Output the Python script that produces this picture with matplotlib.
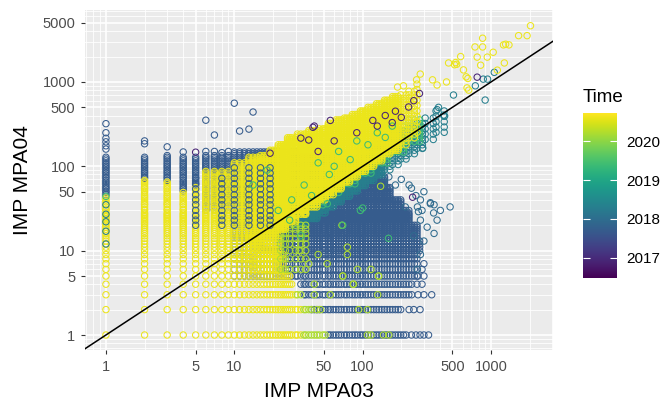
import numpy as np
import matplotlib.pyplot as plt
from matplotlib import ticker

plt.rcParams['font.family'] = ['Liberation Sans', 'DejaVu Sans']

# colour groups, as decimal year on the Time scale
T_BLUE = 2017.7
T_BLUE2 = 2017.95
T_TEAL = 2018.3
T_GREEN = 2019.4
T_YG = 2020.2
T_YELLOW = 2020.6
T_PURPLE = 2016.9
t_min, t_max = 2016.48, 2020.73

# count values the points sit on (integers, coarser once they merge visually)
levels = [1, 2, 3, 4, 5, 6, 7, 8, 9, 10, 11, 12, 13, 14, 15, 16, 17, 18, 19, 20,
          21, 22, 23, 24, 25, 26, 27, 28, 30, 31, 33, 35, 36, 38, 40, 42, 44, 46,
          49, 51, 54, 56, 59, 62, 65, 68, 72, 75, 79, 83, 87, 91, 96, 100, 105,
          110, 116, 122, 128, 134, 141, 148, 155, 163, 171, 180, 189, 198, 208,
          218, 229, 241, 253, 265, 278, 292, 307, 322, 338, 355, 373, 392, 411,
          432, 453, 476, 500, 525, 551, 579, 608, 638, 670, 703, 738, 775, 814,
          855, 898, 943, 990]

# blocks: (x from, x to, y from, y to, every n-th level)
col_blue = [(1, 1, 46, 130, 1), (2, 2, 72, 128, 1), (3, 3, 68, 135, 1),
            (4, 4, 51, 128, 1), (5, 5, 59, 128, 1), (6, 9, 30, 134, 1)]
cloud_blue = [(10, 265, 5, 9, 1), (10, 290, 10, 13, 1), (10, 270, 14, 20, 1),
              (10, 230, 21, 30, 1), (10, 200, 31, 40, 1), (10, 170, 42, 56, 1),
              (10, 150, 59, 75, 1), (10, 130, 79, 100, 1), (10, 60, 105, 128, 1),
              (10, 30, 134, 148, 1)]
rows_blue = [(53, 225, 1, 1, 1), (40, 205, 2, 2, 1), (35, 245, 3, 3, 1),
             (32, 250, 4, 4, 1)]
diag_teal = [(30, 36, 20, 45, 1), (38, 44, 24, 55, 1), (46, 51, 28, 62, 1),
             (54, 59, 33, 72, 1), (62, 68, 38, 82, 1), (72, 79, 44, 95, 1),
             (83, 91, 50, 110, 1), (96, 105, 58, 125, 1), (110, 122, 66, 145, 1),
             (128, 141, 77, 170, 1), (148, 163, 90, 200, 2), (171, 189, 105, 230, 2),
             (198, 218, 120, 270, 2), (229, 253, 140, 300, 2), (265, 292, 160, 340, 2),
             (307, 355, 200, 420, 3), (373, 432, 250, 480, 3)]
diag_green = [(40, 51, 35, 70, 2), (54, 68, 47, 92, 2), (72, 91, 62, 125, 2),
              (96, 122, 82, 165, 2), (128, 163, 110, 220, 2), (171, 218, 145, 300, 2),
              (229, 292, 195, 380, 2)]
col_yellow = [(1, 1, 1, 43, 1), (2, 2, 1, 70, 1), (3, 3, 1, 66, 1),
              (4, 4, 1, 50, 1), (5, 5, 1, 57, 1), (6, 9, 1, 90, 1)]
rows_yellow = [(10, 33, 1, 2, 1), (10, 30, 3, 3, 1), (10, 28, 4, 4, 1),
               (10, 27, 5, 5, 1), (10, 24, 6, 9, 1), (13, 22, 6, 15, 1)]
rows_yg = [(34, 52, 1, 1, 1), (34, 39, 2, 2, 1), (31, 34, 3, 3, 1),
           (23, 36, 6, 20, 2)]
band_yellow = [(10, 12, 8, 115, 1), (13, 15, 10, 130, 1), (16, 18, 13, 140, 1),
               (19, 21, 15, 160, 1), (22, 25, 18, 185, 1), (26, 30, 22, 220, 1),
               (31, 36, 27, 250, 1), (38, 44, 33, 270, 1), (46, 51, 40, 290, 1),
               (54, 59, 46, 330, 1), (62, 68, 54, 360, 1), (72, 79, 63, 390, 1),
               (83, 91, 73, 430, 1), (96, 105, 85, 470, 1), (110, 122, 100, 510, 1),
               (128, 141, 115, 560, 1), (148, 163, 135, 610, 1), (171, 189, 155, 680, 1),
               (198, 218, 180, 750, 2), (229, 253, 210, 850, 2), (265, 292, 250, 1000, 3)]
mix_blue = [(5, 9, 20, 80, 3), (10, 20, 20, 100, 3)]
mix_teal = [(1, 3, 12, 40, 5)]

# single points
top_blue_x = [1, 1, 1, 1, 1, 1, 2, 2, 3, 4, 6, 7, 8, 9, 6, 7, 10, 11, 13, 14]
top_blue_y = [160, 175, 195, 215, 250, 320, 185, 200, 170, 148, 150, 150, 145, 150,
              352, 235, 560, 262, 276, 440]
tail_blue_x = [240, 260, 280, 300, 326, 230, 250, 280, 270, 300, 345, 265, 290,
               270, 300, 290, 300]
tail_blue_y = [1, 1, 1, 1, 1, 2, 2, 2, 3, 3, 3, 4, 4, 5, 5, 6, 7]
ring_x = [267, 290, 337, 403, 282, 318, 360, 300, 250, 380, 282, 267, 360, 480,
          282, 337, 357, 215, 272, 260, 300, 230, 200, 240, 137, 146, 160, 180]
ring_y = [33, 30, 37, 30, 23, 19, 16, 13, 15, 23, 9, 6, 35, 33, 40, 36, 28, 33,
          29, 45, 50, 60, 70, 55, 90, 63, 75, 60]
yg_x = [69, 45, 76, 76, 53, 91, 116, 133, 70, 38, 32, 138, 109, 116, 145, 160,
        93, 109, 40, 44, 47, 131, 56, 42, 84, 85, 42, 70, 133]
yg_y = [20, 9, 9, 11, 7, 6, 6, 5, 5, 7, 10, 58, 1, 1, 1, 1, 2, 2, 2, 2, 2, 3, 3,
        3, 4, 4, 4, 5, 5]
green_x = [159, 33, 27, 70, 53, 96, 100, 1, 35, 45, 55, 65, 80, 90, 110, 130, 150,
           170, 40, 28, 22, 60, 14, 18]
green_y = [14, 15, 23, 20, 36, 30, 32, 44, 60, 110, 80, 150, 120, 200, 180, 250, 220,
           300, 45, 40, 30, 100, 60, 90]
teal_x = [1060, 755, 870, 940, 900, 294, 427, 380, 390, 510, 435]
teal_y = [1300, 900, 1080, 1080, 610, 165, 405, 470, 500, 700, 395]
tail_yellow_x = [2030, 1640, 1910, 1250, 1300, 1380, 1040, 860, 750, 860, 780, 935,
                 830, 1270, 1120, 530, 540, 520, 580, 610, 640, 660, 650, 670, 467,
                 450, 380, 350, 281, 263, 208, 187]
tail_yellow_y = [4640, 3540, 3540, 2750, 2800, 2750, 2250, 3300, 2600, 2600, 1970,
                 1970, 1580, 1680, 1380, 1700, 1620, 1600, 2000, 1390, 1150, 1100,
                 850, 800, 1680, 1000, 920, 1060, 1240, 1060, 900, 870]
purple_x = [5, 19, 33, 38, 41, 42, 56, 228, 277, 780, 245, 60, 90, 120, 150, 180,
            200, 250, 45, 130, 170]
purple_y = [147, 143, 216, 205, 290, 300, 350, 505, 730, 1140, 43, 200, 250, 350,
            400, 450, 380, 600, 150, 300, 330]

x_breaks = [1, 5, 10, 50, 100, 500, 1000]
y_breaks = [1, 5, 10, 50, 100, 500, 1000, 5000]
t_breaks = [2017, 2018, 2019, 2020]

lv = np.array(levels, dtype=float)
px, py, pt = [], [], []


def add_blocks(blocks, t):
    for x0, x1, y0, y1, step in blocks:
        gx = lv[(lv >= x0) & (lv <= x1)][::step]
        gy = lv[(lv >= y0) & (lv <= y1)][::step]
        X, Y = np.meshgrid(gx, gy)
        px.extend(X.ravel())
        py.extend(Y.ravel())
        pt.extend([t] * X.size)


def add_points(xs, ys, t):
    px.extend(xs)
    py.extend(ys)
    pt.extend([t] * len(xs))


add_blocks(col_blue, T_BLUE)
add_blocks(cloud_blue, T_BLUE)
add_blocks(rows_blue, T_BLUE)
add_points(top_blue_x, top_blue_y, T_BLUE)
add_points(tail_blue_x, tail_blue_y, T_BLUE)
add_points(ring_x, ring_y, T_BLUE2)
add_blocks(diag_teal, T_TEAL)
add_blocks(diag_green, T_GREEN)
add_blocks(col_yellow, T_YELLOW)
add_blocks(rows_yellow, T_YELLOW)
add_blocks(rows_yg, T_YG)
add_blocks(band_yellow, T_YELLOW)
add_blocks(mix_blue, T_BLUE)
add_blocks(mix_teal, T_TEAL)
add_points(yg_x, yg_y, T_YG)
add_points(green_x, green_y, T_GREEN)
add_points(teal_x, teal_y, T_TEAL)
add_points(tail_yellow_x, tail_yellow_y, T_YELLOW)
add_points(purple_x, purple_y, T_PURPLE)

cmap = plt.get_cmap('viridis')
norm = plt.Normalize(t_min, t_max)
edge = cmap(norm(np.array(pt)))

fig = plt.figure(figsize=(6.68, 4.03), dpi=100)
ax = fig.add_axes([85 / 668, 53 / 403, 468 / 668, 340 / 403])
ax.set_facecolor('#EBEBEB')
ax.set_xscale('log')
ax.set_yscale('log')
xlim = (0.687, 3040)
ylim = (0.664, 7130)

ax.scatter(px, py, s=21, facecolors='none', edgecolors=edge, linewidths=0.75, zorder=2)
ax.plot(xlim, xlim, color='black', lw=1.1, zorder=3)

ax.set_xlim(*xlim)
ax.set_ylim(*ylim)
ax.set_xticks(x_breaks)
ax.set_xticklabels([str(v) for v in x_breaks])
ax.set_yticks(y_breaks)
ax.set_yticklabels([str(v) for v in y_breaks])
for axis in (ax.xaxis, ax.yaxis):
    axis.set_minor_locator(ticker.LogLocator(base=10, subs=np.arange(2, 10), numticks=20))
    axis.set_minor_formatter(ticker.NullFormatter())
ax.grid(which='major', color='white', lw=1.2, zorder=1)
ax.grid(which='minor', color='white', lw=0.6, zorder=0.9)
ax.set_axisbelow(True)
ax.tick_params(which='major', length=3, width=0.8, color='#333333',
               labelsize=10.5, labelcolor='#4D4D4D', pad=4)
ax.tick_params(which='minor', length=0)
for s in ax.spines.values():
    s.set_visible(False)

fig.text(319 / 668, 6 / 403, 'IMP MPA03', ha='center', va='baseline', fontsize=15)
fig.text(28 / 668, 223 / 403, 'IMP MPA04', ha='center', va='baseline', fontsize=15,
         rotation=90, rotation_mode='anchor')

# colour bar legend
fig.text(583 / 668, (403 - 102) / 403, 'Time', ha='left', va='baseline', fontsize=13.5)
cax = fig.add_axes([583 / 668, 125 / 403, 34 / 668, 165 / 403])
grad = np.linspace(t_min, t_max, 256).reshape(-1, 1)
cax.imshow(grad, aspect='auto', cmap=cmap, origin='lower', extent=[0, 1, t_min, t_max])
cax.hlines(t_breaks, 0, 0.2, colors='white', lw=0.8)
cax.hlines(t_breaks, 0.8, 1, colors='white', lw=0.8)
cax.set_xlim(0, 1)
cax.set_ylim(t_min, t_max)
cax.set_xticks([])
cax.yaxis.tick_right()
cax.set_yticks(t_breaks)
cax.set_yticklabels([str(v) for v in t_breaks])
cax.tick_params(length=0, pad=7, labelsize=11)
for s in cax.spines.values():
    s.set_visible(False)

fig.savefig('out.png', dpi=100)
